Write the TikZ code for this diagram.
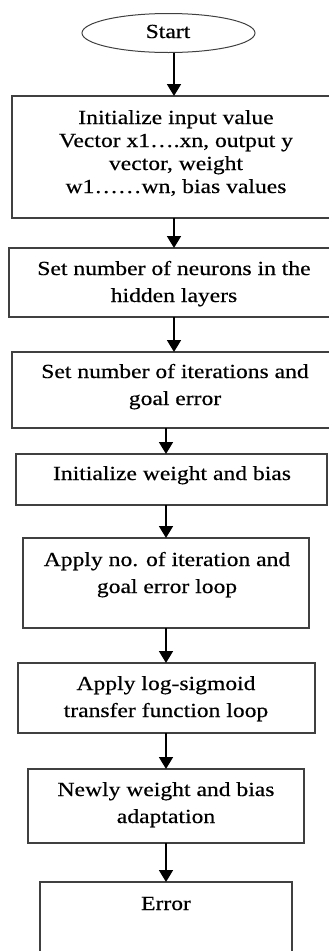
\documentclass[tikz,border=0pt]{standalone}
\usepackage{fontspec}
\setmainfont{Liberation Serif}[FakeStretch=1.18,FakeBold=0.5]
\usetikzlibrary{arrows.meta,shapes.geometric}
\definecolor{boxline}{HTML}{404040}
\tikzset{
  stepbox/.style={draw=boxline,line width=1.3pt,rectangle,inner sep=0pt,outer sep=0pt},
  startshape/.style={draw=boxline,line width=1pt,ellipse,inner sep=0pt,outer sep=0pt,minimum width=173pt,minimum height=39pt},
  txt/.style={inner sep=0pt,align=center,font=\fontsize{20}{27}\selectfont},
  txtA/.style={txt,font=\fontsize{20}{23}\selectfont},
  arr/.style={line width=1.8pt,-{Triangle[width=14pt,length=12pt]}}
}
\begin{document}
\begin{tikzpicture}[x=1pt,y=-1pt]
\useasboundingbox (0,0) rectangle (329,951);
\clip (0,0) rectangle (329,951);
\coordinate (axisA) at (174,0);
\coordinate (axisB) at (166,0);
% shapes
\node[startshape] (start) at (168.5,33) {};
\node[stepbox,minimum width=328pt,minimum height=122pt] (b1) at (176,157) {};
\node[stepbox,minimum width=329pt,minimum height=69pt] (b2) at (173.5,282.5) {};
\node[stepbox,minimum width=326pt,minimum height=76pt] (b3) at (175,390) {};
\node[stepbox,minimum width=311pt,minimum height=51pt] (b4) at (171.5,479.5) {};
\node[stepbox,minimum width=286pt,minimum height=90pt] (b5) at (166,583) {};
\node[stepbox,minimum width=297pt,minimum height=70pt] (b6) at (166.5,698) {};
\node[stepbox,minimum width=276pt,minimum height=74pt] (b7) at (166,806) {};
\node[stepbox,minimum width=252pt,minimum height=88pt] (b8) at (166,926) {};
% texts (anchor base = last line baseline)
\node[txt,anchor=base] (t0) at (168,38) {Start};
\node[txtA,anchor=base] (t1) at (176,193) {Initialize input value\\Vector x1….xn, output y\\vector, weight\\w1……wn, bias values};
\node[txt,anchor=base] (t2) at (174,302) {Set number of neurons in the\\hidden layers};
\node[txt,anchor=base] (t3) at (175,405) {Set number of iterations and\\goal error};
\node[txt,anchor=base] (t4) at (172,480) {Initialize weight and bias};
\node[txt,anchor=base] (t5) at (167,593) {Apply no. of iteration and\\goal error loop};
\node[txt,anchor=base] (t6) at (166,717) {Apply log-sigmoid\\transfer function loop};
\node[txt,anchor=base] (t7) at (166,823) {Newly weight and bias\\adaptation};
\node[txt,anchor=base] (t8) at (166,910) {Error};
% connectors
\draw[arr] (start.south -| axisA) -- (b1.north -| axisA);
\draw[arr] (b1.south -| axisA) -- (b2.north -| axisA);
\draw[arr] (b2.south -| axisA) -- (b3.north -| axisA);
\draw[arr] (b3.south -| axisB) -- (b4.north -| axisB);
\draw[arr] (b4.south -| axisB) -- (b5.north -| axisB);
\draw[arr] (b5.south -| axisB) -- (b6.north -| axisB);
\draw[arr] (b6.south -| axisB) -- (b7.north -| axisB);
\draw[arr] (b7.south -| axisB) -- (b8.north -| axisB);
\end{tikzpicture}
\end{document}
